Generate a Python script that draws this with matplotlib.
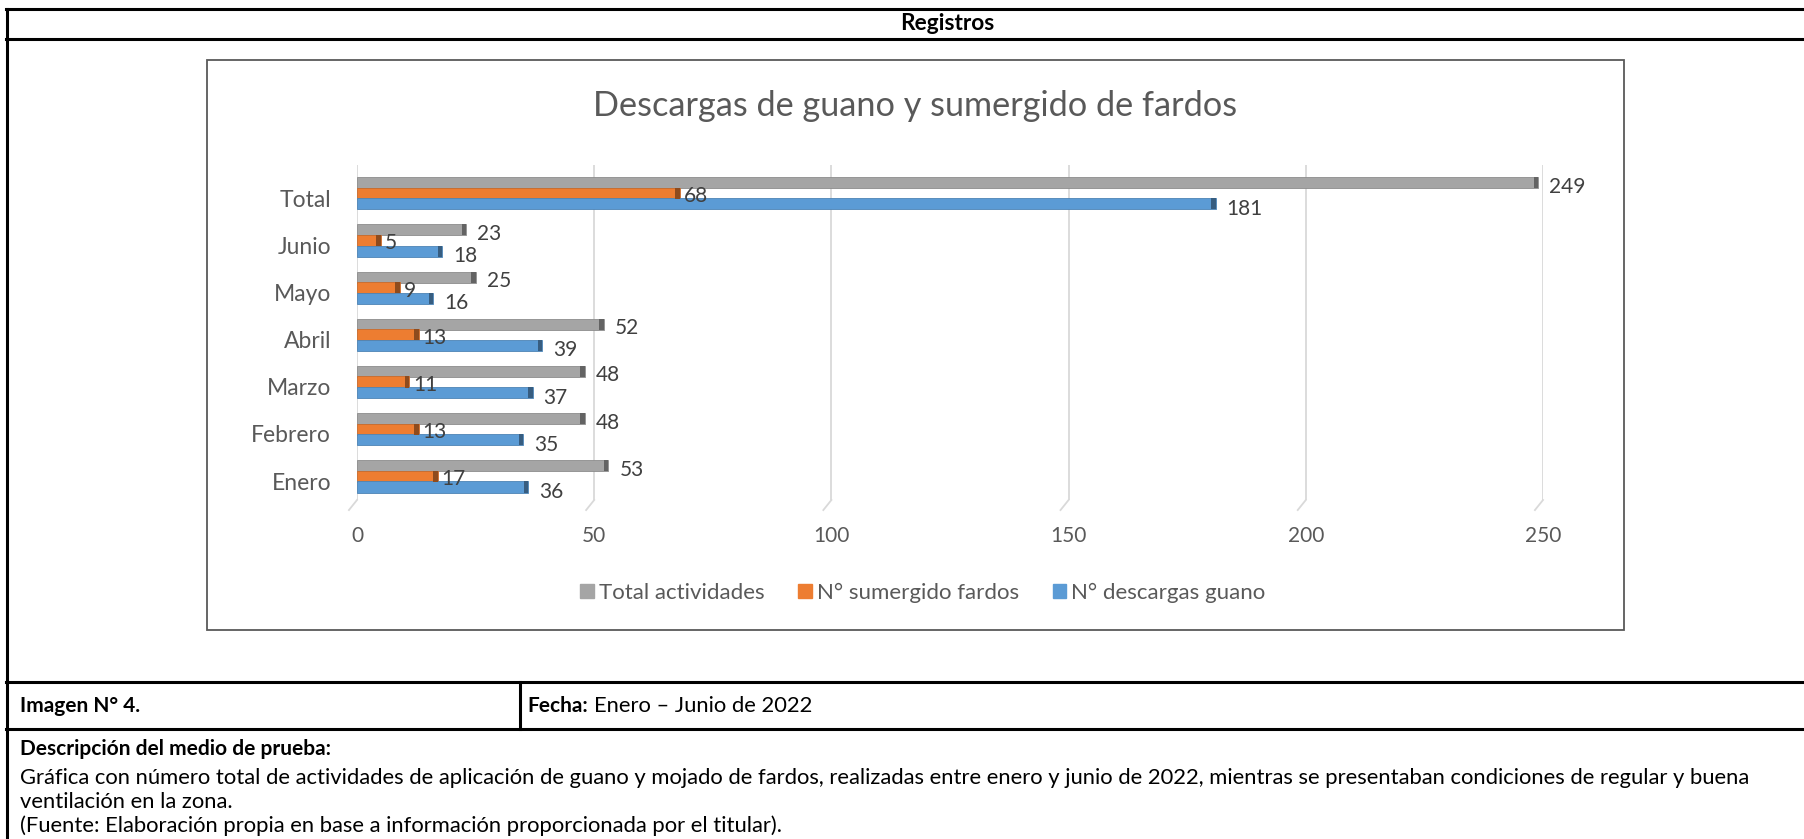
import matplotlib
matplotlib.use("Agg")
import matplotlib.pyplot as plt
import matplotlib.transforms as mtransforms
from matplotlib.patches import Rectangle, Patch
from matplotlib.lines import Line2D
import numpy as np

plt.rcParams['font.family'] = ['Lato', 'DejaVu Sans']

# datos
meses = ["Enero", "Febrero", "Marzo", "Abril", "Mayo", "Junio", "Total"]
total_actividades = [53, 48, 48, 52, 25, 23, 249]
sumergido_fardos = [17, 13, 11, 13, 9, 5, 68]
descargas_guano = [36, 35, 37, 39, 16, 18, 181]
ticks_x = [0, 50, 100, 150, 200, 250]

c_gris = '#A5A5A5'
c_nar = '#ED7D31'
c_azul = '#5B9BD5'
c_txt = '#595959'

W, H = 1804, 839
fig = plt.figure(figsize=(W / 100, H / 100), dpi=100)


def fx(px):
    return px / W


def fy(py):
    return 1 - py / H


# marco de la tabla
lw_t = 2.2
for yy in [9, 39, 682, 729]:
    fig.add_artist(Line2D([fx(6), 1], [fy(yy), fy(yy)], color='black', lw=lw_t))
fig.add_artist(Line2D([fx(7), fx(7)], [fy(9), 0], color='black', lw=lw_t))
fig.add_artist(Line2D([fx(520), fx(520)], [fy(682), fy(729)], color='black', lw=lw_t))

fs_t = 15.8
fig.text(fx(947), fy(24), "Registros", ha='center', va='center', fontsize=16.3, fontweight='bold')
fig.text(fx(20), fy(706), "Imagen N° 4.", ha='left', va='center', fontsize=15, fontweight='bold')
fig.text(fx(527), fy(706), "Fecha:", ha='left', va='center', fontsize=15, fontweight='bold')
fig.text(fx(594), fy(706), "Enero – Junio de 2022", ha='left', va='center', fontsize=fs_t)
fig.text(fx(20), fy(749), "Descripción del medio de prueba:", ha='left', va='center', fontsize=15, fontweight='bold')
fig.text(fx(20), fy(778), "Gráfica con número total de actividades de aplicación de guano y mojado de fardos, "
         "realizadas entre enero y junio de 2022, mientras se presentaban condiciones de regular y buena",
         ha='left', va='center', fontsize=fs_t)
fig.text(fx(20), fy(802), "ventilación en la zona.", ha='left', va='center', fontsize=fs_t)
fig.text(fx(20), fy(826), "(Fuente: Elaboración propia en base a información proporcionada por el titular).",
         ha='left', va='center', fontsize=fs_t)

# marco del grafico
fig.add_artist(Rectangle((fx(207), fy(630)), fx(1624) - fx(207), fy(60) - fy(630),
                         fill=False, edgecolor='#595959', lw=1.3))
fig.text(fx(915), fy(106), "Descargas de guano y sumergido de fardos", ha='center', va='center',
         fontsize=24.7, color=c_txt)

ax = fig.add_axes([fx(357), fy(500), fx(1543) - fx(357), fy(165) - fy(500)])
y = np.arange(len(meses))
h = 0.225
off = 0.1


def oscuro(c, f=0.7):
    r, g, b = matplotlib.colors.to_rgb(c)
    return (r * f, g * f, b * f)


series = [(total_actividades, c_gris, off + h, "Total actividades", -4),
          (sumergido_fardos, c_nar, off, "N° sumergido fardos", -3),
          (descargas_guano, c_azul, off - h, "N° descargas guano", -5)]

for vals, col, dy, lab, _ in series:
    vals = np.array(vals)
    ax.barh(y + dy, vals, height=0.235, color=col, edgecolor=oscuro(col, 0.85), lw=0.6, zorder=3)
    # tapa oscura en el extremo (efecto 3D)
    ax.barh(y + dy, np.full(len(vals), 0.9), left=vals - 0.9, height=0.235,
            color=oscuro(col, 0.6), lw=0, zorder=4)

# etiquetas de datos
for vals, col, dy, lab, oy in series:
    dx = 4 if col == c_nar else 11
    for yi, v in zip(y, vals):
        ax.annotate(str(v), (v, yi + dy), xytext=(dx, oy), textcoords='offset pixels',
                    ha='left', va='center', fontsize=15, color='#404040', zorder=5)

ax.set_xlim(0, 250)
ax.set_ylim(-0.40, 6.70)
ax.set_xticks(ticks_x)
ax.set_yticks(y)
ax.set_yticklabels(meses)
ax.xaxis.grid(True, color='#D9D9D9', lw=1.3, zorder=0)
ax.tick_params(axis='both', length=0, labelcolor=c_txt)
ax.tick_params(axis='x', pad=19, labelsize=15)
ax.tick_params(axis='y', pad=18.7, labelsize=16.5)
for s in ax.spines.values():
    s.set_visible(False)

# pie inclinado de las lineas de division (suelo 3D)
trans = mtransforms.blended_transform_factory(ax.transData, ax.transAxes)
for t in ticks_x:
    ax.plot([t, t - 1.7], [0, -0.03], transform=trans, color='#D9D9D9', lw=1.3, clip_on=False, zorder=0)

handles = [Patch(color=s[1], label=s[3]) for s in series]
fig.legend(handles=handles, loc='center', bbox_to_anchor=(fx(923), fy(593)), ncol=3, frameon=False,
           fontsize=16, labelcolor=c_txt, handlelength=0.6, handleheight=0.6, handletextpad=0.25,
           columnspacing=1.5)

fig.savefig("out.png", dpi=100)
